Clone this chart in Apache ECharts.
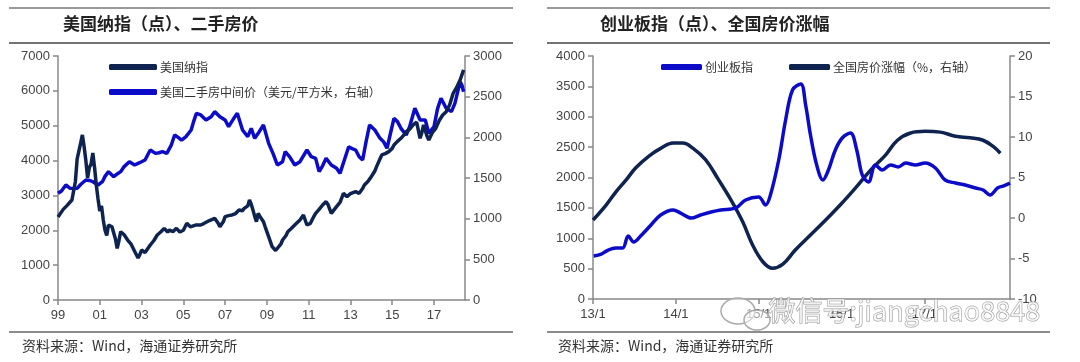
<!DOCTYPE html>
<html><head><meta charset="utf-8">
<script src="https://cdn.jsdelivr.net/npm/echarts@6/dist/echarts.min.js"></script>
<style>html,body{margin:0;padding:0;background:#fff}#c{width:1080px;height:362px}</style>
</head><body><div id="c"></div>
<script>
// ---------- Left chart: months since 1999/01 ----------
const leftTickMonths = [0, 24, 48, 72, 96, 120, 144, 168, 192, 216];
const leftTickLabels = ['99', '01', '03', '05', '07', '09', '11', '13', '15', '17'];

const nasdaqMonth = [0,3,5,8,10,11,12,13,14,15,16,17,18,19,20,21,22,23,24,25,26,27,28,29,30,31,33,34,35,36,38,40,42,44,46,47,48,50,51,53,55,57,59,61,63,64,66,68,70,71,72,74,76,77,79,80,82,84,85,87,90,92,93,95,96,98,100,102,104,106,107,109,110,111,112,113,114,115,116,118,119,121,123,125,126,128,129,131,132,134,135,137,139,141,143,145,147,148,150,152,154,155,157,158,160,162,164,166,168,171,173,175,176,178,180,182,183,185,186,188,190,192,193,195,197,199,200,202,204,206,207,208,209,210,211,212,213,215,217,219,221,223,225,227,229,231,233];
const nasdaqValue = [2381,2600,2700,2869,3400,4050,4000,4500,4734,4400,4000,3500,3800,3900,4217,3800,3300,2900,2550,2700,2295,2000,1850,2150,2200,2100,1750,1480,1700,1960,1870,1720,1600,1400,1205,1300,1434,1360,1387,1578,1700,1865,1950,2056,1950,2008,1960,2056,1950,1912,2000,2200,2100,2056,2150,2200,2152,2200,2247,2280,2343,2200,2104,2250,2391,2420,2439,2480,2582,2560,2630,2700,2869,2750,2582,2400,2247,2487,2400,2247,2100,1817,1530,1420,1386,1600,1721,1850,1960,2050,2104,2200,2295,2439,2152,2200,2400,2487,2600,2726,2822,2750,2487,2550,2678,2800,3060,2965,3050,3108,3060,3200,3300,3400,3539,3700,3826,4050,4160,4200,4256,4350,4447,4550,4639,4750,4830,4900,5021,5100,5117,4639,4800,5021,5050,4700,4590,4800,4925,5150,5308,5403,5600,5930,6100,6312,6600];

const homeMonth = [0,2,4.5,7,9,11,13,16,18,20,23,25.5,27,29,32,34,36,38,41,44,46,48,50,53,56,58,60,62.5,65,67,69,71,73.5,76.5,78,79.5,82,85,88,90,93,96,98,101,103,106,109,111,113,115,118,121,123.5,126,129,130.5,133,136,139,143,145.5,148,150,152,154,157,160,162,164.5,167,169,171,173,175,177,179,182,185,187,189,191,193,195,197,200,202,205,208,211,213,216,218,220,223,226,228,231,232,233];
const homeValue = [1312,1340,1414,1373,1370,1373,1420,1475,1470,1455,1414,1455,1520,1578,1516,1550,1578,1640,1701,1660,1680,1700,1721,1844,1803,1810,1824,1803,1900,2029,2000,1967,2008,2090,2200,2295,2275,2213,2254,2316,2254,2213,2131,2234,2295,2090,2008,2111,1988,2049,2152,1926,1803,1660,1701,1824,1762,1660,1701,1844,1762,1742,1578,1650,1742,1660,1619,1557,1721,1885,1860,1844,1762,1721,1950,2152,2090,1988,1947,1865,2050,2234,2193,2111,2029,2131,2357,2213,2213,2049,2131,2350,2480,2357,2316,2418,2684,2643,2561];

// ---------- Right chart: months since 2013/01 ----------
const rightTickMonths = [0, 12, 24, 36, 48];
const rightTickLabels = ['13/1', '14/1', '15/1', '16/1', '17/1'];

const cyMonth = [0.1,1.2,2.2,3.3,4.3,5.1,5.9,6.9,8.4,9.8,11.6,12.7,14.2,15.6,17.1,18.5,20.7,22.1,24,25,25.7,26.9,27.9,28.9,30.1,30.8,31.5,32.4,33.3,34.1,35.1,36.1,37.3,38.2,39,39.9,40.9,41.9,43.1,44.2,45.3,46.7,48.1,49.6,51,52.5,53.9,55.4,56.5,57.5,58.6,59.4,60.4];
const cyValue = [708,740,806,840,840,1037,938,1037,1218,1383,1465,1415,1333,1383,1432,1465,1498,1630,1679,1547,1712,2288,2946,3440,3539,3193,2700,2206,1959,2123,2453,2650,2732,2453,2041,1926,2206,2123,2206,2173,2239,2206,2239,2156,1959,1909,1876,1827,1794,1712,1827,1860,1909];

const hpMonth = [0,1.9,3.3,4.8,6.2,8.1,9.8,11.6,13,14.5,16.3,18.2,20,21.7,23.1,24.6,26,27.5,29.3,31.5,33.7,35.9,38,40.2,42.4,44.1,46,48.1,50.3,52.5,54.6,56.5,58,59];
const hpValue = [-0.25,1.6,3.2,4.7,6.2,7.65,8.6,9.26,9.26,8.6,7.2,4.7,2.2,-0.5,-3.3,-5.4,-6.2,-5.7,-3.95,-2.1,-0.25,1.7,3.7,5.9,7.8,9.6,10.5,10.7,10.6,10.1,9.9,9.6,8.8,8.0];

const NAVY = '#0f2350';
const BLUE = '#0c0cc8';
const zip = (a, b) => a.map((x, i) => [x, b[i]]);
const FONT = '"Liberation Sans", Arial, sans-serif';
const CJK = '"Noto Sans CJK SC", sans-serif';

const axisLineStyle = { color: '#888', width: 1.5 };
function yAxis(gridIndex, min, max, interval, position) {
  return {
    type: 'value', gridIndex, min, max, interval, position,
    axisLine: { show: true, lineStyle: axisLineStyle },
    axisTick: { show: true, inside: false, length: 5, lineStyle: axisLineStyle },
    axisLabel: { color: '#444', fontSize: 13, fontFamily: FONT, margin: 8, formatter: v => String(v) },
    splitLine: { show: false }
  };
}
function xAxis(gridIndex, max, ticks, labels) {
  return {
    type: 'value', gridIndex, min: 0, max,
    axisLine: { show: true, onZero: false, lineStyle: axisLineStyle },
    axisTick: { show: true, length: 5, customValues: ticks, lineStyle: axisLineStyle },
    axisLabel: {
      color: '#444', fontSize: 13, fontFamily: FONT, margin: 9,
      customValues: ticks,
      formatter: v => labels[ticks.indexOf(v)] ?? ''
    },
    splitLine: { show: false }
  };
}

const chart = echarts.init(document.getElementById('c'), null, { renderer: 'canvas' });
const option = {
  animation: false,
  backgroundColor: '#fff',
  grid: [
    { left: 58, right: 615, top: 56, bottom: 62 },
    { left: 593, right: 70, top: 56, bottom: 63 }
  ],
  xAxis: [
    xAxis(0, 233.8, leftTickMonths, leftTickLabels),
    xAxis(1, 60.4, rightTickMonths, rightTickLabels)
  ],
  yAxis: [
    yAxis(0, 0, 7000, 1000, 'left'),
    yAxis(0, 0, 3000, 500, 'right'),
    yAxis(1, 0, 4000, 500, 'left'),
    yAxis(1, -10, 20, 5, 'right')
  ],
  legend: [
    {
      data: ['美国纳指', '美国二手房中间价（美元/平方米，右轴）'],
      orient: 'vertical', left: 104, top: 56, itemGap: 13,
      itemWidth: 48, itemHeight: 6, icon: 'roundRect',
      textStyle: { fontFamily: CJK, fontSize: 12, color: '#333', padding: [0, 0, 0, -2] }
    },
    {
      data: ['创业板指', '全国房价涨幅（%，右轴）'],
      orient: 'horizontal', left: 656, top: 56, itemGap: 36,
      itemWidth: 41, itemHeight: 6, icon: 'roundRect',
      textStyle: { fontFamily: CJK, fontSize: 12, color: '#333', padding: [0, 0, 0, -2] }
    }
  ],
  series: [
    { name: '美国二手房中间价（美元/平方米，右轴）', type: 'line', xAxisIndex: 0, yAxisIndex: 1,
      data: zip(homeMonth, homeValue), showSymbol: false, z: 2,
      lineStyle: { color: BLUE, width: 3.5 }, itemStyle: { color: BLUE } },
    { name: '美国纳指', type: 'line', xAxisIndex: 0, yAxisIndex: 0,
      data: zip(nasdaqMonth, nasdaqValue), showSymbol: false, z: 3,
      lineStyle: { color: NAVY, width: 3.5 }, itemStyle: { color: NAVY } },
    { name: '创业板指', type: 'line', xAxisIndex: 1, yAxisIndex: 2,
      data: zip(cyMonth, cyValue), showSymbol: false, smooth: 0.35, z: 3,
      lineStyle: { color: BLUE, width: 3.5 }, itemStyle: { color: BLUE } },
    { name: '全国房价涨幅（%，右轴）', type: 'line', xAxisIndex: 1, yAxisIndex: 3,
      data: zip(hpMonth, hpValue), showSymbol: false, smooth: 0.4, z: 2,
      lineStyle: { color: NAVY, width: 3.5 }, itemStyle: { color: NAVY } }
  ],
  graphic: [
    { type: 'line', shape: { x1: 9, y1: 8, x2: 513, y2: 8 }, style: { stroke: '#777', lineWidth: 1.5 } },
    { type: 'line', shape: { x1: 9, y1: 43, x2: 513, y2: 43 }, style: { stroke: '#444', lineWidth: 1.5 } },
    { type: 'line', shape: { x1: 9, y1: 332, x2: 513, y2: 332 }, style: { stroke: '#666', lineWidth: 1.5 } },
    { type: 'line', shape: { x1: 547, y1: 8, x2: 1050, y2: 8 }, style: { stroke: '#777', lineWidth: 1.5 } },
    { type: 'line', shape: { x1: 547, y1: 43, x2: 1050, y2: 43 }, style: { stroke: '#444', lineWidth: 1.5 } },
    { type: 'line', shape: { x1: 547, y1: 332, x2: 1050, y2: 332 }, style: { stroke: '#666', lineWidth: 1.5 } },
    { type: 'text', left: 63, top: 15, style: { text: '美国纳指（点）、二手房价', font: 'bold 17px "Noto Sans CJK SC"', fill: '#222' } },
    { type: 'text', left: 600, top: 15, style: { text: '创业板指（点）、全国房价涨幅', font: 'bold 17px "Noto Sans CJK SC"', fill: '#222' } },
    { type: 'text', left: 22, top: 339, style: { text: '资料来源：Wind，海通证券研究所', font: '14px "Noto Sans CJK SC"', fill: '#333' } },
    { type: 'text', left: 558, top: 339, style: { text: '资料来源：Wind，海通证券研究所', font: '14px "Noto Sans CJK SC"', fill: '#333' } },
    { type: 'ellipse', z: 100, shape: { cx: 738, cy: 311, rx: 17, ry: 13 }, style: { fill: 'rgba(255,255,255,0.5)', stroke: '#aaa', lineWidth: 1.5 } },
    { type: 'ellipse', z: 101, shape: { cx: 757, cy: 320, rx: 13, ry: 10 }, style: { fill: 'rgba(255,255,255,0.5)', stroke: '#aaa', lineWidth: 1.5 } },
    { type: 'text', z: 102, left: 768, top: 297, style: { text: '微信号:jiangchao8848', font: '27px "Noto Sans CJK SC"', fill: 'rgba(255,255,255,0.7)', stroke: '#999', lineWidth: 1 } }
  ]
};
chart.setOption(option);
</script>
</body></html>
